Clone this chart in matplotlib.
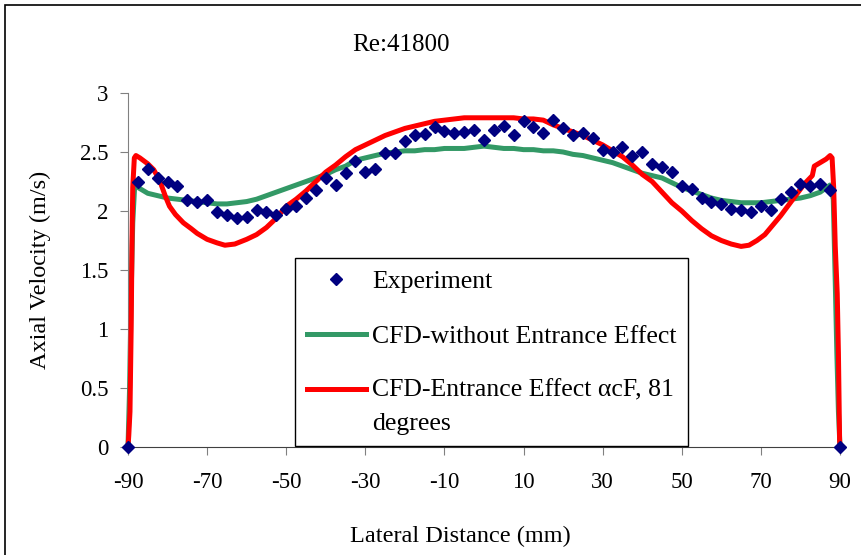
import numpy as np
import matplotlib.pyplot as plt
from matplotlib.patches import Rectangle
from matplotlib.legend_handler import HandlerLine2D

plt.rcParams['font.family'] = ['Liberation Serif', 'DejaVu Serif']
plt.rcParams['axes.unicode_minus'] = False

# experiment (lateral distance mm, axial velocity m/s)
x_exp = [-90, -87.5, -85, -82.5, -80, -77.5, -75, -72.5, -70, -67.5, -65, -62.5, -60,
         -57.5, -55, -52.5, -50, -47.5, -45, -42.5, -40, -37.5, -35, -32.5, -30, -27.5,
         -25, -22.5, -20, -17.5, -15, -12.5, -10, -7.5, -5, -2.5, 0, 2.5, 5, 7.5, 10,
         12.5, 15, 17.5, 20, 22.5, 25, 27.5, 30, 32.5, 35, 37.5, 40, 42.5, 45, 47.5,
         50, 52.5, 55, 57.5, 60, 62.5, 65, 67.5, 70, 72.5, 75, 77.5, 80, 82.5, 85,
         87.5, 90]
v_exp = [0, 2.25, 2.36, 2.28, 2.25, 2.21, 2.09, 2.08, 2.09, 1.99, 1.97, 1.94, 1.95,
         2.01, 1.99, 1.97, 2.02, 2.04, 2.11, 2.18, 2.28, 2.22, 2.32, 2.42, 2.33, 2.36,
         2.49, 2.49, 2.59, 2.64, 2.65, 2.71, 2.68, 2.66, 2.67, 2.69, 2.60, 2.69, 2.72,
         2.64, 2.76, 2.71, 2.66, 2.77, 2.70, 2.64, 2.66, 2.62, 2.52, 2.50, 2.54, 2.47,
         2.50, 2.40, 2.37, 2.33, 2.21, 2.19, 2.11, 2.08, 2.06, 2.02, 2.01, 1.99, 2.04,
         2.01, 2.10, 2.16, 2.23, 2.21, 2.23, 2.18, 0]

# CFD without entrance effect
x_cfd = [-90, -89.6, -89.2, -88.8, -88.3, -87.5, -85, -82.5, -80, -77.5, -75, -72.5,
         -70, -67.5, -65, -62.5, -60, -57.5, -55, -52.5, -50, -47.5, -45, -42.5, -40,
         -37.5, -35, -32.5, -30, -27.5, -25, -22.5, -20, -17.5, -15, -12.5, -10, -7.5,
         -5, -2.5, 0, 2.5, 5, 7.5, 10, 12.5, 15, 17.5, 20, 22.5, 25, 27.5, 30, 32.5,
         35, 37.5, 40, 42.5, 45, 47.5, 50, 52.5, 55, 57.5, 60, 62.5, 65, 67.5, 70,
         72.5, 75, 77.5, 80, 82.5, 85, 87.5, 88.3, 88.8, 89.2, 89.6, 90]
v_cfd = [0, 0.5, 1.3, 1.9, 2.22, 2.2, 2.15, 2.13, 2.11, 2.10, 2.09, 2.08,
         2.07, 2.06, 2.06, 2.07, 2.08, 2.10, 2.13, 2.16, 2.19, 2.22, 2.25, 2.28, 2.31,
         2.35, 2.38, 2.43, 2.45, 2.47, 2.49, 2.50, 2.51, 2.51, 2.52, 2.52, 2.53, 2.53,
         2.53, 2.54, 2.55, 2.54, 2.53, 2.53, 2.52, 2.52, 2.51, 2.51, 2.50, 2.48, 2.47,
         2.45, 2.43, 2.41, 2.38, 2.35, 2.32, 2.30, 2.28, 2.24, 2.20, 2.17, 2.14, 2.11,
         2.09, 2.08, 2.07, 2.07, 2.07, 2.08, 2.09, 2.10, 2.11, 2.13, 2.16, 2.22, 2.1,
         1.4, 0.8, 0.3, 0]

# CFD with entrance effect
x_ent = [-90, -89.8, -89.5, -89.2, -89.0, -88.8, -88.4, -88.0, -87, -85, -83.5, -82,
         -80.5, -79.5, -78, -76, -74, -72.5, -70, -67.5, -65.5, -63, -60, -57.5, -55,
         -52.5, -50, -47.5, -45, -42.5, -40, -37.5, -35, -32.5, -30, -27.5, -25,
         -22.5, -20, -17.5, -15, -12.5, -10, -7.5, -5, -2.5, 0, 2.5, 5, 7.5, 10,
         12.5, 15, 17.5, 20, 22.5, 25, 27.5, 30, 32.5, 35, 37.5, 40, 42.5, 45, 47.5,
         50, 52.5, 55, 57.5, 60, 62.5, 65, 67, 69, 71, 73, 75, 77, 79, 81, 83, 83.5,
         85, 86.5, 87.5, 88.0, 88.4, 88.8, 89.3, 89.6, 89.9, 90]
v_ent = [0, 0.1, 0.3, 1.0, 1.7, 2.2, 2.45, 2.47, 2.45, 2.40, 2.35, 2.26,
         2.12, 2.04, 1.97, 1.90, 1.85, 1.81, 1.76, 1.73, 1.71, 1.72, 1.76, 1.80, 1.86,
         1.94, 2.04, 2.10, 2.17, 2.25, 2.33, 2.39, 2.46, 2.52, 2.56, 2.60, 2.64,
         2.67, 2.70, 2.72, 2.74, 2.76, 2.77, 2.78, 2.79, 2.79, 2.79, 2.79, 2.79, 2.79, 2.78,
         2.78, 2.77, 2.73, 2.70, 2.67, 2.64, 2.60, 2.56, 2.51, 2.46, 2.39, 2.31, 2.25,
         2.16, 2.07, 2.00, 1.92, 1.85, 1.79, 1.75, 1.72, 1.70, 1.71, 1.75, 1.80, 1.88,
         1.96, 2.05, 2.14, 2.23, 2.30, 2.38, 2.41, 2.44, 2.47, 2.45, 2.2, 1.7, 1.3,
         0.8, 0.06, 0]


class FirstLineHandler(HandlerLine2D):
    # put the legend line next to the first line of a two-line label
    def __init__(self, dy, **kw):
        super().__init__(**kw)
        self.dy = dy

    def create_artists(self, *args, **kw):
        arts = super().create_artists(*args, **kw)
        for a in arts:
            a.set_ydata(np.asarray(a.get_ydata()) + self.dy)
        return arts


fig = plt.figure(figsize=(8.62, 5.55), dpi=100)
ax = fig.add_axes([128 / 862, 108 / 555, 712 / 862, 354 / 555])

ax.plot(x_cfd, v_cfd, color='#339966', lw=3.6, label='CFD-without Entrance Effect',
        zorder=2, clip_on=False)
red, = ax.plot(x_ent, v_ent, color='#ff0000', lw=3.6,
               label='CFD-Entrance Effect \u03b1cF, 81\ndegrees', zorder=3, clip_on=False)
ax.plot(x_exp, v_exp, 'D', color='#000080', ms=6.3, label='Experiment', zorder=4,
        clip_on=False)

ax.set_xlim(-90, 90)
ax.set_ylim(0, 3)
ax.set_xticks(range(-90, 91, 20))
ax.set_yticks([0, 0.5, 1, 1.5, 2, 2.5, 3])
ax.set_yticklabels(['0', '0.5', '1', '1.5', '2', '2.5', '3'])
ax.tick_params(labelsize=16.5, direction='out', length=6, color='#808080', pad=8)
ax.tick_params(axis='x', pad=12)
for s in ['top', 'right']:
    ax.spines[s].set_visible(False)
ax.spines['left'].set_color('#808080')
ax.spines['bottom'].set_color('#404040')

fig.text(460 / 862, 1 - 536 / 555, 'Lateral Distance (mm)', fontsize=17.5,
         ha='center', va='center')
fig.text(40 / 862, 1 - 270 / 555, 'Axial Velocity (m/s)', fontsize=17.5,
         ha='center', va='center', rotation=90)
fig.text(401 / 862, 1 - 45 / 555, 'Re:41800', fontsize=18, ha='center', va='center')

h, l = ax.get_legend_handles_labels()
leg = ax.legend([h[2], h[0], h[1]], [l[2], l[0], l[1]], loc='upper left',
                bbox_to_anchor=(295 / 862, 1 - 258 / 555),
                bbox_transform=fig.transFigure, borderaxespad=0, fontsize=18.5,
                frameon=True, fancybox=False, edgecolor='black', framealpha=1,
                borderpad=0.45, labelspacing=1.25, handlelength=2.3, handletextpad=0.25,
                handler_map={red: FirstLineHandler(12.6)})
leg.get_frame().set_linewidth(1.0)
leg.get_texts()[2].set_linespacing(1.65)

# outer chart border
fig.patches.append(Rectangle((5 / 862, -0.1), 1.2, 1.1 - 5 / 555,
                             transform=fig.transFigure, fill=False,
                             edgecolor='black', lw=1.2))

fig.savefig('out.png', dpi=100)
